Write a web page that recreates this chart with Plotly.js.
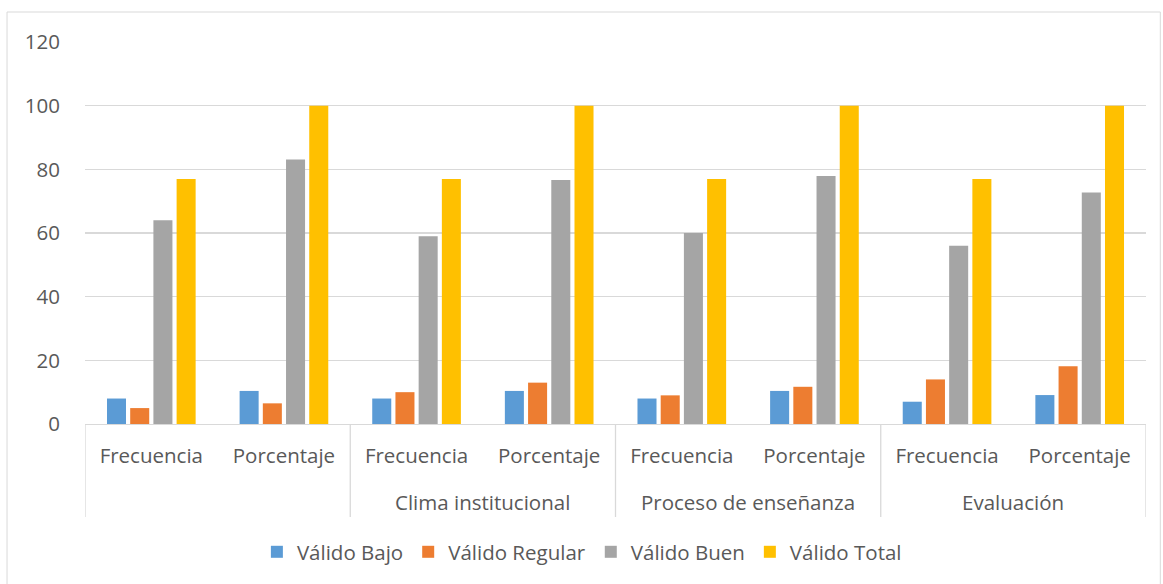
<!DOCTYPE html>
<html>
<head>
<meta charset="utf-8">
<script src="https://cdn.plot.ly/plotly-3.0.1.min.js"></script>
<style>html,body{margin:0;padding:0;background:#fff;}#chart{width:1163px;height:584px;}</style>
</head>
<body>
<div id="chart"></div>
<script>
const subLabels = ["Frecuencia","Porcentaje","Frecuencia","Porcentaje","Frecuencia","Porcentaje","Frecuencia","Porcentaje"];
const groupLabels = ["", "Clima institucional", "Proceso de enseñanza", "Evaluación"];
const seriesNames = ["Válido Bajo","Válido Regular","Válido Buen","Válido Total"];
const bajo    = [8, 10.39, 8, 10.39, 8, 10.39, 7, 9.09];
const regular = [5, 6.49, 10, 12.99, 9, 11.69, 14, 18.18];
const buen    = [64, 83.12, 59, 76.62, 60, 77.92, 56, 72.73];
const total   = [77, 100, 77, 100, 77, 100, 77, 100];
const colors = ["#5b9bd5","#ed7d31","#a5a5a5","#ffc000"];

const xs = subLabels.map((_, i) => i);
const seriesVals = [bajo, regular, buen, total];
const font = "'Open Sans', 'Noto Sans', sans-serif";
const fs = 20.5;
const textColor = "#595959";

const data = seriesVals.map((v, k) => ({
  type: "bar", x: xs, y: v, name: seriesNames[k],
  marker: {color: colors[k]}, hoverinfo: "y"
}));

const shapes = [];
for (let g = 0; g <= groupLabels.length; g++) {
  const xv = g * 2 - 0.5;
  shapes.push({type: "line", xref: "x", yref: "paper", x0: xv, x1: xv, y0: 0, y1: -0.2435,
    line: {color: "#d9d9d9", width: 1.3}});
}
shapes.push({type: "rect", xref: "paper", yref: "paper", x0: -0.0735, x1: 1.0135, y0: -0.45, y1: 1.0785,
  line: {color: "#d9d9d9", width: 1}, fillcolor: "rgba(0,0,0,0)"});

const annotations = groupLabels.map((g, i) => ({
  text: g, xref: "x", yref: "paper", x: i * 2 + 0.5, y: -0.203, yanchor: "middle",
  showarrow: false, font: {family: font, size: fs, color: textColor}
}));

const layout = {
  width: 1163, height: 584,
  margin: {l: 85, r: 17, t: 42, b: 160},
  paper_bgcolor: "#fff", plot_bgcolor: "#fff",
  barmode: "group", bargap: 0.3, bargroupgap: 0.18,
  showlegend: true,
  legend: {orientation: "h", x: 0.162, xanchor: "left", y: -0.335, yanchor: "middle",
    font: {family: font, size: fs, color: textColor}, itemwidth: 30, traceorder: "normal"},
  xaxis: {
    range: [-0.5, 7.5], tickmode: "array", tickvals: xs, ticktext: subLabels,
    showgrid: false, zeroline: false, showline: true, linecolor: "#d9d9d9", linewidth: 1.3,
    ticks: "outside", ticklen: 13, tickcolor: "rgba(0,0,0,0)",
    tickfont: {family: font, size: fs, color: textColor}, fixedrange: true
  },
  yaxis: {
    range: [0, 120], dtick: 20, tick0: 0, showgrid: true, gridcolor: "#d9d9d9", gridwidth: 1.3,
    zeroline: false, showline: false, ticks: "outside", ticklen: 20, tickcolor: "rgba(0,0,0,0)",
    tickfont: {family: font, size: fs, color: textColor}, fixedrange: true
  },
  shapes: shapes, annotations: annotations,
  font: {family: font, color: textColor}
};

Plotly.newPlot("chart", data, layout, {displayModeBar: false, staticPlot: true});
</script>
</body>
</html>
